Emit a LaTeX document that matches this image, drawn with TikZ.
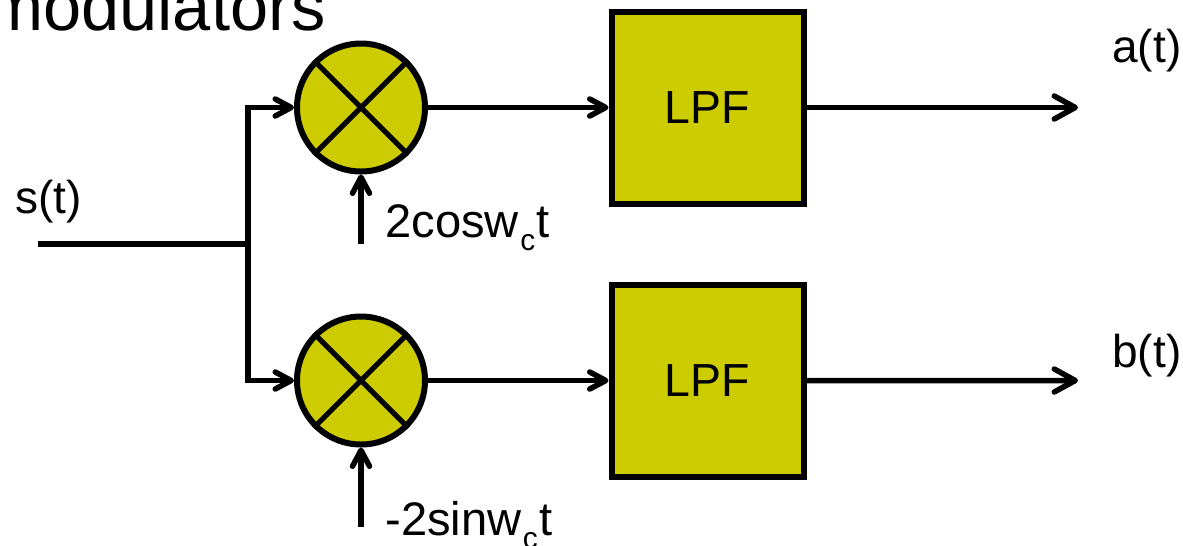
\documentclass[tikz,border=0pt]{standalone}
\usepackage{fontspec}
\setmainfont{Liberation Sans}
\usetikzlibrary{arrows.meta}
\definecolor{lpfyellow}{HTML}{CCCC00}
\newcommand{\subc}{\hspace{0.8pt}\raisebox{-7.5pt}{\fontsize{17}{17}\selectfont c}\hspace{0.8pt}}
\tikzset{
	mixer/.style={circle, draw=black, fill=lpfyellow, line width=0.12cm, minimum size=2.56cm, inner sep=0pt},
	lpfbox/.style={rectangle, draw=black, fill=lpfyellow, line width=0.12cm, minimum width=3.84cm, minimum height=3.84cm, font=\fontsize{26.4}{30}\selectfont},
	signal/.style={line width=0.11cm, -{Straight Barb[length=0.32cm,width=0.34cm,round]}},
	output/.style={line width=0.11cm, -{Straight Barb[length=0.42cm,width=0.46cm,round]}},
	label/.style={anchor=base west, inner sep=0pt, font=\fontsize{26.2}{30}\selectfont},
	carrier/.style={anchor=base west, inner sep=0pt, font=\fontsize{26.8}{30}\selectfont}
}
\begin{document}
\begin{tikzpicture}[node distance=5.46cm]
		\useasboundingbox (0,0) rectangle (23.66,-10.9);

		\node(title)[anchor=base west, inner sep=0pt, font=\fontsize{39}{44}\selectfont] at (-0.28,-0.6) {modulators};

		\node(mix-1)[mixer] at (7.22,-2.15) {};
		\node(mix-2)[mixer, below of=mix-1] {};

		\node(lpf-1)[lpfbox, right of=mix-1, node distance=6.93cm] {LPF};
		\node(lpf-2)[lpfbox, below of=lpf-1] {LPF};

		\node(s)[label] at (0.3,-4.26) {s(t)};
		\node(a)[label] at (22.24,-1.24) {a(t)};
		\node(b)[label] at (22.24,-7.34) {b(t)};
		\node(cos)[carrier] at (7.7,-4.74) {2cosw\subc t};
		\node(sin)[carrier] at (7.7,-10.7) {-2sinw\subc t};

		\coordinate(in) at (0.76,-4.88);
		\coordinate(fork) at (4.96,-4.88);
		\coordinate(cos-in) at (7.22,-4.88);
		\coordinate(sin-in) at (7.22,-10.54);
		\coordinate(a-out) at (21.56,-2.15);
		\coordinate(b-out) at (21.56,-7.61);

		\draw[line width=0.12cm] (in) -- (fork);
		\draw[signal] (fork) |- (mix-1);
		\draw[signal] (fork) |- (mix-2);
		\draw[signal] (cos-in) -- (mix-1);
		\draw[signal] (sin-in) -- (mix-2);
		\draw[signal] (mix-1) -- (lpf-1);
		\draw[signal] (mix-2) -- (lpf-2);
		\draw[output] (lpf-1) -- (a-out);
		\draw[output] (lpf-2) -- (b-out);

		\draw[line width=0.1cm] (mix-1.north west) -- (mix-1.south east);
		\draw[line width=0.1cm] (mix-1.north east) -- (mix-1.south west);
		\draw[line width=0.1cm] (mix-2.north west) -- (mix-2.south east);
		\draw[line width=0.1cm] (mix-2.north east) -- (mix-2.south west);
	\end{tikzpicture}
\end{document}
